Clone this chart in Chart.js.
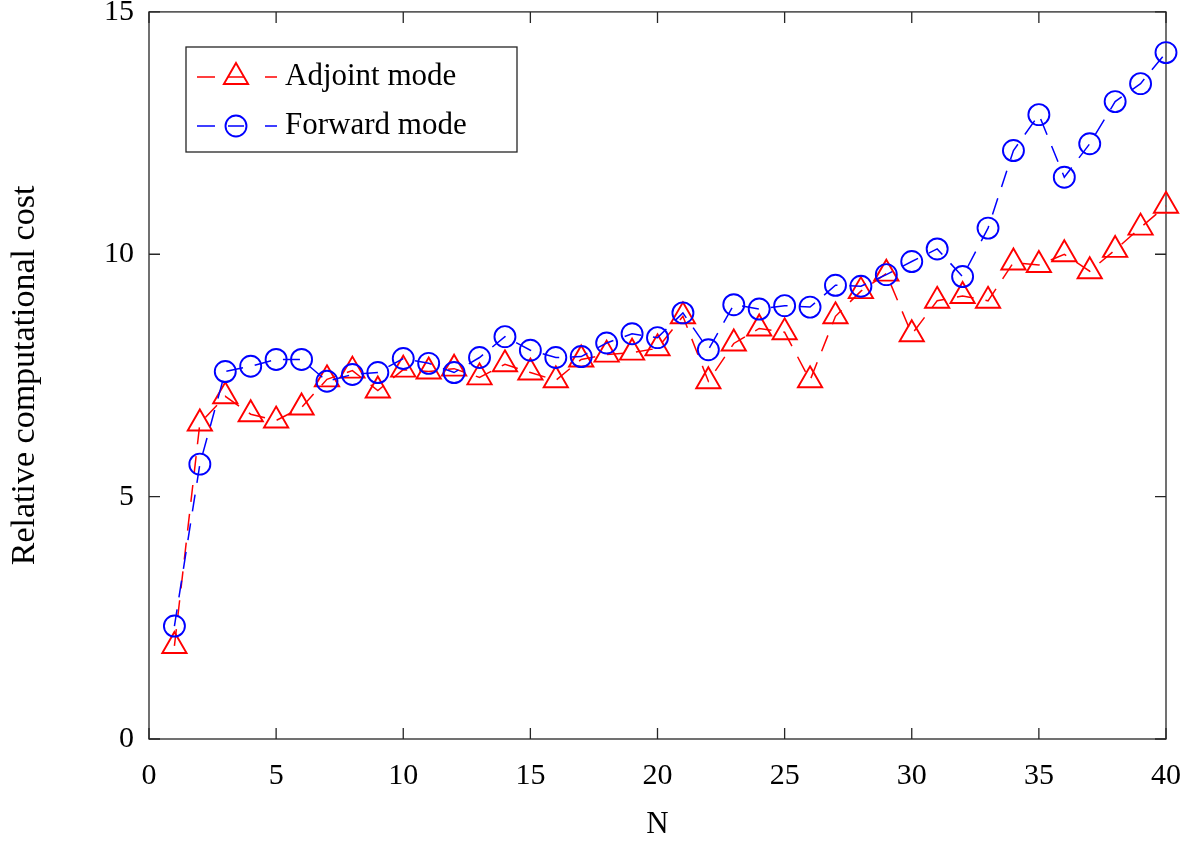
<!DOCTYPE html>
<html>
<head>
<meta charset="utf-8">
<script src="https://cdn.jsdelivr.net/npm/chart.js@4.4.1/dist/chart.umd.min.js"></script>
<style>
  html, body { margin: 0; padding: 0; background: #ffffff; overflow: hidden; }
  /* chart.js keeps ~15px above the plot for the markers, pull it up a bit */
  #myChart { display: block; margin-top: -4px; }
</style>
</head>
<body>
<canvas id="myChart" width="1189" height="847"></canvas>
<script>
// problem size N
const nValues = [1, 2, 3, 4, 5, 6, 7, 8, 9, 10,
                 11, 12, 13, 14, 15, 16, 17, 18, 19, 20,
                 21, 22, 23, 24, 25, 26, 27, 28, 29, 30,
                 31, 32, 33, 34, 35, 36, 37, 38, 39, 40];

// relative cost
const adjointCost = [1.92, 6.51, 7.07, 6.70, 6.57, 6.84, 7.42, 7.60, 7.19, 7.62,
                     7.58, 7.64, 7.46, 7.73, 7.56, 7.40, 7.83, 7.93, 7.97, 8.06,
                     8.72, 7.38, 8.16, 8.47, 8.39, 7.40, 8.72, 9.24, 9.60, 8.35,
                     9.04, 9.14, 9.04, 9.83, 9.78, 10.00, 9.65, 10.09, 10.55, 11.00];

const forwardCost = [2.33, 5.67, 7.58, 7.69, 7.83, 7.83, 7.38, 7.52, 7.56, 7.85,
                     7.75, 7.56, 7.87, 8.30, 8.02, 7.87, 7.89, 8.17, 8.36, 8.28,
                     8.79, 8.03, 8.96, 8.87, 8.94, 8.91, 9.36, 9.34, 9.58, 9.85,
                     10.11, 9.54, 10.54, 12.14, 12.88, 11.59, 12.28, 13.15, 13.52, 14.16];

const xTicks = [0, 5, 10, 15, 20, 25, 30, 35, 40];
const yTicks = [0, 5, 10, 15];

const seriesNames = ['Adjoint mode', 'Forward mode'];

const axisColour = '#262626';
const fontName = '"Liberation Serif", "DejaVu Serif", serif';
const dashes = [17, 12];
const tickLen = 11;

function toPoints(ys) {
  return ys.map((y, i) => ({ x: nValues[i], y: y }));
}

// box round the axes + inward ticks (matlab style)
const axesBox = {
  id: 'axesBox',
  beforeDatasetsDraw(chart) {
    const { ctx, chartArea: a, scales } = chart;
    ctx.save();
    ctx.strokeStyle = axisColour;
    ctx.lineWidth = 1.3;
    ctx.setLineDash([]);
    ctx.strokeRect(a.left, a.top, a.right - a.left, a.bottom - a.top);
    ctx.beginPath();
    xTicks.forEach(v => {
      const px = scales.x.getPixelForValue(v);
      ctx.moveTo(px, a.bottom); ctx.lineTo(px, a.bottom - tickLen);
      ctx.moveTo(px, a.top); ctx.lineTo(px, a.top + tickLen);
    });
    yTicks.forEach(v => {
      const py = scales.y.getPixelForValue(v);
      ctx.moveTo(a.left, py); ctx.lineTo(a.left + tickLen, py);
      ctx.moveTo(a.right, py); ctx.lineTo(a.right - tickLen, py);
    });
    ctx.stroke();
    ctx.restore();
  }
};

function drawMarker(ctx, style, x, y, r) {
  ctx.beginPath();
  if (style === 'triangle') {
    ctx.moveTo(x, y - r);
    ctx.lineTo(x + r * Math.sin(Math.PI * 2 / 3), y + r / 2);
    ctx.lineTo(x - r * Math.sin(Math.PI * 2 / 3), y + r / 2);
    ctx.closePath();
  } else {
    ctx.arc(x, y, r, 0, Math.PI * 2);
  }
  ctx.stroke();
}

// legend box top left, drawn by hand since the line sample needs a marker in it
// (canvas is shifted up 4px, so +4 on the y values)
const boxLegend = {
  id: 'boxLegend',
  afterDraw(chart) {
    const ctx = chart.ctx;
    ctx.save();
    ctx.fillStyle = '#ffffff';
    ctx.fillRect(186, 51, 331, 105);
    ctx.strokeStyle = axisColour;
    ctx.lineWidth = 1.3;
    ctx.strokeRect(186, 51, 331, 105);

    const rows = [81, 130];
    const bits = [[197, 215], [228, 244], [265, 277]];
    chart.data.datasets.forEach((ds, i) => {
      const y = rows[i];
      ctx.strokeStyle = ds.borderColor;
      ctx.lineWidth = ds.borderWidth;
      ctx.beginPath();
      bits.forEach(b => { ctx.moveTo(b[0], y); ctx.lineTo(b[1], y); });
      ctx.stroke();
      ctx.lineWidth = ds.pointBorderWidth;
      drawMarker(ctx, ds.pointStyle, 236, y, ds.pointRadius);
      ctx.fillStyle = '#000000';
      ctx.font = '31px ' + fontName;
      ctx.textBaseline = 'middle';
      ctx.textAlign = 'left';
      ctx.fillText(ds.label, 285, y);
    });
    ctx.restore();
  }
};

const data = {
  datasets: [{
    label: seriesNames[0],
    data: toPoints(adjointCost),
    borderColor: '#ff0000',
    backgroundColor: 'rgba(0,0,0,0)',
    borderWidth: 1.5,
    borderDash: dashes,
    pointStyle: 'triangle',
    pointRadius: 14,
    pointBorderWidth: 1.9,
    pointBorderColor: '#ff0000',
    pointBackgroundColor: 'rgba(0,0,0,0)',
    tension: 0,
    clip: false,
    order: 1
  }, {
    label: seriesNames[1],
    data: toPoints(forwardCost),
    borderColor: '#0000ff',
    backgroundColor: 'rgba(0,0,0,0)',
    borderWidth: 1.5,
    borderDash: dashes,
    pointStyle: 'circle',
    pointRadius: 10.5,
    pointBorderWidth: 1.9,
    pointBorderColor: '#0000ff',
    pointBackgroundColor: 'rgba(0,0,0,0)',
    tension: 0,
    clip: false,
    order: 0
  }]
};

const config = {
  type: 'line',
  data: data,
  plugins: [axesBox, boxLegend],
  options: {
    responsive: false,
    animation: false,
    devicePixelRatio: 1,
    layout: { padding: { top: 7, right: 23, left: 0, bottom: 0 } },
    plugins: {
      legend: { display: false },
      tooltip: { enabled: false }
    },
    scales: {
      x: {
        type: 'linear',
        min: 0,
        max: 40,
        afterBuildTicks: s => { s.ticks = xTicks.map(v => ({ value: v })); },
        afterFit: s => { s.height = 104; s.paddingLeft = 0; s.paddingRight = 0; },
        grid: { display: false, drawTicks: false },
        border: { display: false },
        ticks: { color: '#000000', padding: 19, maxRotation: 0, font: { family: fontName, size: 30 } },
        title: {
          display: true,
          text: 'N',
          color: '#000000',
          padding: { top: 0, bottom: 0 },
          font: { family: fontName, size: 31 }
        }
      },
      y: {
        type: 'linear',
        min: 0,
        max: 15,
        afterBuildTicks: s => { s.ticks = yTicks.map(v => ({ value: v })); },
        afterFit: s => { s.width = 149; s.paddingTop = 0; s.paddingBottom = 0; },
        grid: { display: false, drawTicks: false },
        border: { display: false },
        ticks: { color: '#000000', padding: 15, font: { family: fontName, size: 30 } },
        title: {
          display: true,
          text: 'Relative computational cost',
          color: '#000000',
          padding: { top: 5, bottom: 0 },
          font: { family: fontName, size: 34 }
        }
      }
    }
  }
};

const myChart = new Chart(document.getElementById('myChart'), config);
</script>
</body>
</html>
